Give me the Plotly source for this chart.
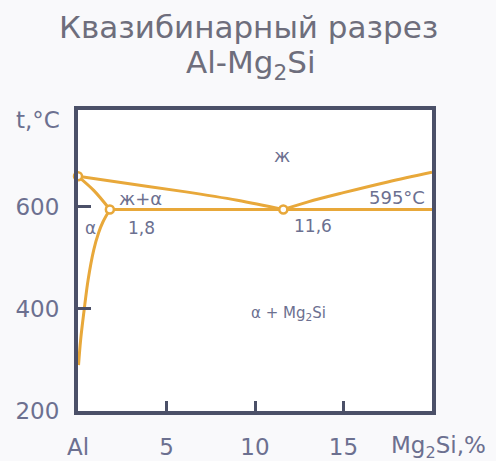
import plotly.graph_objects as go

# Quasi-binary section Al–Mg2Si: composition (% Mg2Si) vs temperature (°C)
x_ticks = [0, 5, 10, 15]
x_tick_text = ["Al", "5", "10", "15"]
y_ticks = [200, 400, 600]

al_melt_x = [0]
al_melt_t = [660]

eut_x = [1.8, 11.6]
eut_t = [595, 595]

# liquidus, left branch (Al side) down to the eutectic
liq_left_x = [0, 3, 6, 9, 11.6]
liq_left_t = [660, 645, 630, 613, 595]

# liquidus, right branch (Mg2Si side)
liq_right_x = [11.6, 13, 15, 17.5, 20]
liq_right_t = [595, 610, 628, 649, 668]

# solidus of the α solid solution
solidus_x = [0, 0.9, 1.8]
solidus_t = [660, 632, 595]

# solvus: solubility of Mg2Si in α
solvus_x = [1.8, 1.4, 1.16, 0.89, 0.57, 0.34, 0.15, 0.03]
solvus_t = [595, 570, 549, 516, 457, 396, 340, 290]

# eutectic horizontal
eut_line_x = [1.8, 20]
eut_line_t = [595, 595]

LINE = "#e8a83a"
AXIS = "#4b5068"
TXT = "#6c7090"
TITLE = "#6e6e7c"
FONT = "DejaVu Sans"

fig = go.Figure()
for xs, ts in [(liq_left_x, liq_left_t), (liq_right_x, liq_right_t),
               (solidus_x, solidus_t), (solvus_x, solvus_t),
               (eut_line_x, eut_line_t)]:
    fig.add_trace(go.Scatter(x=xs, y=ts, mode="lines",
                             line=dict(color=LINE, width=3, shape="spline"),
                             hoverinfo="skip", showlegend=False))

fig.add_trace(go.Scatter(x=al_melt_x + eut_x, y=al_melt_t + eut_t, mode="markers",
                         marker=dict(size=8, color="white",
                                     line=dict(color=LINE, width=2.5)),
                         showlegend=False, cliponaxis=False))

# phase-field and point labels
ann = [
    ("ж", 11.55, 700, 18),
    ("ж+α", 3.53, 616, 18),
    ("1,8", 3.58, 559, 17),
    ("α", 0.7, 559, 17),
    ("11,6", 13.3, 563, 17),
    ("595°C", 18.0, 618, 18),
    ("α + Mg<sub>2</sub>Si", 11.9, 392, 15),
]
for text, x, y, s in ann:
    fig.add_annotation(x=x, y=y, xref="x", yref="y", text=text, showarrow=False,
                       xanchor="center", yanchor="middle",
                       font=dict(family=FONT, size=s, color=TXT))


def paper_text(text, x, y, size, color):
    fig.add_annotation(x=x, y=y, xref="paper", yref="paper", text=text,
                       showarrow=False, xanchor="center", yanchor="middle",
                       font=dict(family=FONT, size=size, color=color))


# axis captions
paper_text("t,°C", -0.114, 0.967, 23, TXT)
paper_text("Mg<sub>2</sub>Si,%", 1.018, -0.12, 23, TXT)

# two-line heading
paper_text("Квазибинарный разрез", 0.483, 1.276, 31, TITLE)
paper_text("Al-Mg<sub>2</sub>Si", 0.488, 1.150, 31, TITLE)

fig.update_layout(
    width=496, height=461,
    margin=dict(l=78, r=64, t=110, b=50),
    paper_bgcolor="#f9f9fb", plot_bgcolor="white",
    showlegend=False,
    xaxis=dict(range=[0, 20], tickvals=x_ticks, ticktext=x_tick_text,
               ticks="inside", ticklen=10, tickwidth=3, tickcolor=AXIS,
               showline=True, linecolor=AXIS, linewidth=4, mirror=True,
               showgrid=False, zeroline=False, ticklabelstandoff=12,
               automargin=False,
               tickfont=dict(family=FONT, size=23, color=TXT)),
    yaxis=dict(range=[200, 790], tickvals=y_ticks,
               ticks="inside", ticklen=13, tickwidth=3, tickcolor=AXIS,
               showline=True, linecolor=AXIS, linewidth=4, mirror=True,
               showgrid=False, zeroline=False, ticklabelstandoff=10,
               automargin=False,
               tickfont=dict(family=FONT, size=23, color=TXT)),
)

fig.write_html("out.html")
